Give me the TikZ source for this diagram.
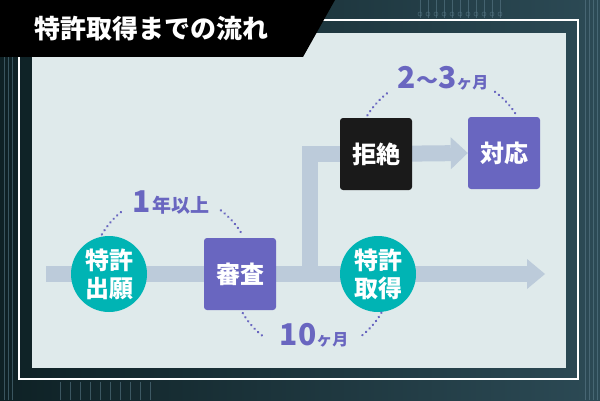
\documentclass[tikz,border=0pt]{standalone}
\usepackage{fontspec}
\setmainfont{Noto Sans CJK JP}
\usepackage{xcolor}
\usetikzlibrary{arrows.meta}

\definecolor{bgdark}{HTML}{0E2125}
\definecolor{bgmid}{HTML}{2C4A55}
\definecolor{tracec}{HTML}{5E7F8E}
\definecolor{panelc}{HTML}{DFEAEB}
\definecolor{flowc}{HTML}{BCCBDA}
\definecolor{tealc}{HTML}{00B4B4}
\definecolor{purplec}{HTML}{6966C0}
\definecolor{rejc}{HTML}{1A1A1A}

\pgfdeclarelayer{backdrop}
\pgfdeclarelayer{flowlayer}
\pgfsetlayers{backdrop,flowlayer,main}

\tikzset{
  stepbox/.style={rounded corners=3pt,minimum size=72pt,inner sep=0pt,text=white,
    font=\bfseries\fontsize{24}{28}\selectfont},
  stepcircle/.style={circle,fill=tealc,minimum size=76pt,inner sep=0pt,text=white,align=center,
    font=\bfseries\fontsize{24}{28}\selectfont},
  flow/.style={draw=flowc,line width=16pt},
  period/.style={draw=purplec,line width=2.4pt,line cap=round,dash pattern=on 0.3pt off 4.6pt},
  periodlabel/.style={text=purplec,font=\bfseries,inner sep=0pt,anchor=base},
  trace/.style={draw=tracec,line width=0.6pt,opacity=0.55}
}

\begin{document}
\begin{tikzpicture}[x=1pt,y=1pt]
  \useasboundingbox (0,0) rectangle (600,400);
  % background
  \begin{pgfonlayer}{backdrop}
    \fill[left color=bgdark,right color=bgmid] (0,0) rectangle (600,400);
    \foreach \x in {4,8,12} {
      \draw[trace] (\x,0) -- (\x,343);
    }
    \foreach \x in {585,589,593,597} {
      \draw[trace] (\x,0) -- (\x,400);
    }
    \foreach \x in {60,70,...,150} {
      \draw[trace] (\x,0) -- (\x,18);
    }
    \foreach \x in {420,428,...,500} {
      \draw[trace] (\x,400) -- (\x,382);
      \draw[trace] (\x,386) circle (2);
    }
    \draw[white,line width=1.5pt] (19,21) rectangle (578,380);
    \fill[panelc] (32,32) rectangle (566,367);
  \end{pgfonlayer}

  % title tab
  \fill[black] (0,400) -- (335,400) -- (303,343) -- (0,343) -- cycle;
  \node[anchor=base west,inner sep=0pt,text=white,font=\bfseries\fontsize{26}{26}\selectfont] (title) at (34,361) {特許取得までの流れ};

  % steps
  \node[stepcircle] (app) at (109,126) {特許\\出願};
  \node[stepbox,fill=purplec] (exam) at (240,126) {審査};
  \node[stepcircle] (grant) at (378,126) {特許\\取得};
  \node[stepbox,fill=rejc] (rej) at (376,246) {拒絶};
  \node[stepbox,fill=purplec] (resp) at (504,247) {対応};

  % flow arrows
  \coordinate (start) at (46,126);
  \coordinate (fork) at (310,126);
  \coordinate (end) at (545,126);
  \begin{pgfonlayer}{flowlayer}
    \draw[flow,-{Triangle[length=18pt,width=30pt,line width=0pt]}] (start) -- (end);
    \draw[flow] (fork) |- (rej.center);
    \draw[flow,-{Triangle[length=17pt,width=32pt,line width=0pt]}] (rej.center) -- (resp.west);
  \end{pgfonlayer}

  % periods
  \draw[period] (172,125) ++(150:81) arc[start angle=150,end angle=127,radius=81];
  \draw[period] (172,125) ++(53:81) arc[start angle=53,end angle=30,radius=81];
  \node[periodlabel] (p1) at (171,188) {{\fontsize{30}{30}\selectfont 1}\kern1pt{\fontsize{19}{19}\selectfont 年以上}};

  \draw[period] (312,127) ++(210:80) arc[start angle=210,end angle=232,radius=80];
  \draw[period] (312,127) ++(309:80) arc[start angle=309,end angle=331,radius=80];
  \node[periodlabel] (p2) at (314,55) {{\fontsize{30}{30}\selectfont 10}{\fontsize{16}{16}\selectfont ヶ月}};

  \draw[period] (442,238) ++(148:88) arc[start angle=148,end angle=127,radius=88];
  \draw[period] (442,238) ++(53:88) arc[start angle=53,end angle=32,radius=88];
  \node[periodlabel] (p3) at (443,312) {{\fontsize{30}{30}\selectfont 2}{\fontsize{22}{22}\selectfont 〜}{\fontsize{30}{30}\selectfont 3}{\fontsize{16}{16}\selectfont ヶ月}};
\end{tikzpicture}
\end{document}
